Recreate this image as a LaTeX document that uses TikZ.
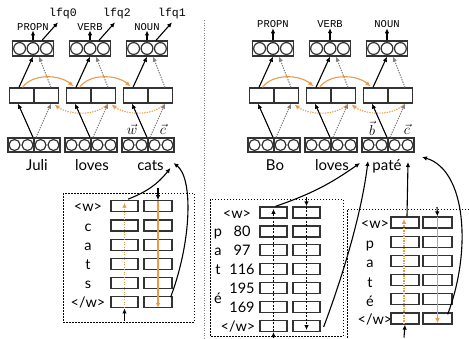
\documentclass[tikz,border=0pt]{standalone}
\usepackage{fontspec}
\setmainfont{Lato}
\newfontfamily\ttfam{Liberation Mono}
\usetikzlibrary{arrows.meta,calc}
\definecolor{orng}{HTML}{EC9A45}
\definecolor{bxc}{HTML}{333333}
\definecolor{gdot}{HTML}{808080}
\tikzset{
  wbox/.style={draw=bxc,line width=1.3pt,inner sep=0pt,minimum width=#1,minimum height=15pt},
  cbox/.style={draw=bxc,line width=1.3pt,inner sep=0pt,minimum width=#1,minimum height=11pt},
  circ/.style={draw=bxc,line width=1.2pt},
  word/.style={font=\fontsize{15}{17}\selectfont,inner sep=0pt,anchor=base},
  clab/.style={font=\fontsize{14.5}{16}\selectfont,inner sep=0pt,anchor=base},
  tagt/.style={font=\ttfam\fontsize{10.5}{12}\selectfont,inner sep=0pt},
  lfqt/.style={font=\ttfam\fontsize{11.5}{12}\selectfont,inner sep=0pt},
  vect/.style={font=\fontsize{14}{16}\selectfont,inner sep=0pt},
  arr/.style={-{Latex[length=5pt,width=4.5pt]},line width=1.1pt},
  garr/.style={arr,draw=gdot,dash pattern=on 1.3pt off 1.2pt},
  fwd/.style={arr,draw=orng},
  bwd/.style={arr,draw=orng,dash pattern=on 1.3pt off 1.2pt},
  kdash/.style={arr,dash pattern=on 2pt off 1.5pt},
  frame/.style={draw=black,line width=0.9pt,dash pattern=on 1.5pt off 1.5pt},
}
\begin{document}
\begin{tikzpicture}[x=1pt,y=-1pt]
\useasboundingbox (0,0) rectangle (469,338);

% ---------- word-level networks ----------
\foreach \p/\ox/\ty in {L/0/26.7,R/240/24.5}{
  \foreach \i/\c/\tg in {1/34/PROPN,2/91/VERB,3/148/NOUN}{
    \node[wbox=41pt] (t\p\i) at ({\c+\ox-1},48.5) {};
    \foreach \d in {-13.4,0,13.4} \draw[circ] ($(t\p\i.center)+(\d,0)$) circle (5.9pt);
    \node[tagt] (g\p\i) at ({\c+\ox-1},\ty) {\tg};
    \draw[arr] (t\p\i.north) -- (g\p\i.south);
    \node[wbox=23.5pt] (ml\p\i) at ({\c+\ox-12.5},95.5) {};
    \node[wbox=23.5pt] (mr\p\i) at ({\c+\ox+12.5},95.5) {};
    \node[wbox=52pt,minimum height=14pt] (b\p\i) at ({\c+\ox},145) {};
    \foreach \d in {-19.5,-6.5,6.5,19.5} \draw[circ] ($(b\p\i.center)+(\d,0)$) circle (5.5pt);
    \draw[bxc,line width=1.3pt] (b\p\i.north) -- (b\p\i.south);
    \draw[arr] ($(b\p\i.north)+(-1,0)$) -- ($(ml\p\i.south)+(-3.5,0)$);
    \draw[garr] ($(b\p\i.north)+(2,0)$) -- ($(mr\p\i.south)+(4.5,0)$);
    \draw[arr] ($(ml\p\i.north)+(-2.5,0)$) -- (t\p\i.south);
    \draw[garr] ($(mr\p\i.north)+(4.5,0)$) -- ($(t\p\i.south)+(6,0)$);
  }
  \foreach \i/\j in {1/2,2/3}{
    \draw[fwd] ($(ml\p\i.north)+(1,0)$) .. controls +(10,-14) and +(-14,-12) .. ($(ml\p\j.north)+(-5,-1)$);
    \draw[bwd] ($(mr\p\j.south)+(3,1)$) .. controls +(-12,12) and +(14,10) .. ($(mr\p\i.south)+(8,1)$);
  }
}

% lfq labels (left only)
\foreach \i/\x/\lb in {1/63/lfq0,2/117/lfq2,3/172/lfq1}{
  \node[lfqt] (q\i) at (\x,14) {\lb};
  \draw[arr] ($(tL\i.north)+(9,0)$) -- ($(tL\i.north)+(25,-18)$);
}

% words
\node[word] (wL1) at (37,170) {Juli};
\node[word] (wL2) at (92,170) {loves};
\node[word] (wL3) at (150.5,170) {cats};
\node[word] (wR1) at (275,170) {Bo};
\node[word] (wR2) at (332,170) {loves};
\node[word] (wR3) at (387,170) {paté};

\node[vect] (vw) at (132,129.5) {$\vec{w}$};
\node[vect] (vc) at (163,129.5) {$\vec{c}$};
\node[vect] (vb) at (372,128) {$\vec{b}$};
\node[vect] (vc2) at (407,129.5) {$\vec{c}$};

% separator
\draw[gdot,line width=0.8pt,dash pattern=on 1pt off 1.5pt] (204,20) -- (204,338);

% ---------- left character box ----------
\draw[frame] (63,193) rectangle (194,322);
\foreach \k/\lb in {0/{<w>},1/c,2/a,3/t,4/s,5/{</w>}}{
  \pgfmathsetmacro\yy{206.3+19.2*\k}
  \node[cbox=27pt] (cl\k) at (124.5,\yy) {};
  \node[cbox=28pt] (cr\k) at (158,\yy) {};
  \node[clab] (cx\k) at (88,{\yy+5.5}) {\lb};
}
\coordinate (ciL) at (124.5,320.5);
\draw[arr] (ciL) -- (cl5.south);
\draw[bwd] ($(cl5.south)+(0,-0.6)$) -- ($(cl0.north)+(0,2.5)$);
\coordinate (ciR) at (158,188);
\draw[arr] (ciR) -- (cr0.north);
\draw[fwd] ($(cr0.north)+(0,0.6)$) -- ($(cr5.south)+(0,-0.6)$);
\draw[arr] ($(cl0.north)+(3.5,-1)$) to[bend right=15] ($(wL3.base)+(20,-2)$);
\draw[arr] ($(cr5.north east)+(-2,1)$) .. controls (192,240) and (193,178) .. ($(wL3.base)+(23,-7)$);

% ---------- right character box 1 (bytes) ----------
\draw[frame] (210,199) rectangle (343,336);
\foreach \k in {0,...,6}{
  \pgfmathsetmacro\yy{212.5+18.9*\k}
  \node[cbox=27pt] (dl\k) at (273.5,\yy) {};
  \node[cbox=27pt] (dr\k) at (306.5,\yy) {};
}
\node[clab] (dx0) at (237,{212.5+5.5}) {<w>};
\foreach \k/\lb in {1/80,2/97,3/116,4/195,5/169}{
  \pgfmathsetmacro\yy{212.5+18.9*\k}
  \node[clab] (dn\k) at (242,{\yy+5.5}) {\lb};
}
\node[clab] (dx6) at (238,{212.5+6*18.9+5.5}) {</w>};
\node[clab] (dp) at (218,{231.4+5.5}) {p};
\node[clab] (da) at (218,{250.3+5.5}) {a};
\node[clab] (dt) at (218,{269.2+5.5}) {t};
\node[clab] (de) at (218,303.5) {é};
\coordinate (diA) at (273.5,338);
\draw[arr] (diA) -- (dl6.south);
\draw[kdash] ($(dl6.south)+(0,-0.6)$) -- ($(dl0.north)+(0,2.5)$);
\coordinate (diB) at (306.5,197);
\draw[arr] (diB) -- (dr0.north);
\draw[kdash] ($(dr0.north)+(0,0.6)$) -- ($(dr6.south)+(0,-2)$);
\draw[arr] ($(dl0.north)+(2,0)$) to[bend right=8] ($(wR3.base)+(-27,-7)$);
\draw[arr] ($(dr6.east)+(3,1)$) .. controls (345,270) and (362,210) .. ($(wR3.base)+(-19,-9)$);

% ---------- right character box 2 (chars) ----------
\draw[frame] (469,209) -- (347,209) -- (347,338);
\foreach \k/\lb in {0/{<w>},5/{</w>}}{
  \pgfmathsetmacro\yy{222.5+19.2*\k}
  \node[clab] (ex\k) at (375,{\yy+5.5}) {\lb};
}
\foreach \k/\lb in {1/p,2/a,3/t,4/é}{
  \pgfmathsetmacro\yy{222.5+19.2*\k}
  \node[clab] (ey\k) at (370,{\yy+7}) {\lb};
}
\foreach \k in {0,...,5}{
  \pgfmathsetmacro\yy{222.5+19.2*\k}
  \node[cbox=28pt] (el\k) at (405,\yy) {};
  \node[cbox=29pt] (er\k) at (437.5,\yy) {};
}
\coordinate (eiA) at (404,337.5);
\draw[arr] (eiA) -- (el5.south);
\draw[bwd] ($(el5.south)+(-1,-0.6)$) -- ($(el0.north)+(-1,2.5)$);
\coordinate (eiB) at (437,207);
\draw[arr] (eiB) -- (er0.north);
\draw[fwd] ($(er0.north)+(0,0.6)$) -- ($(er5.south)+(0,-1.5)$);
\draw[arr] ($(el0.north)+(2,0)$) -- ($(wR3.base)+(21,-8)$);
\draw[arr] ($(er5.north east)+(-5,2)$) .. controls (472,250) and (466,170) .. ($(wR3.base)+(35,-13)$);
\end{tikzpicture}
\end{document}
